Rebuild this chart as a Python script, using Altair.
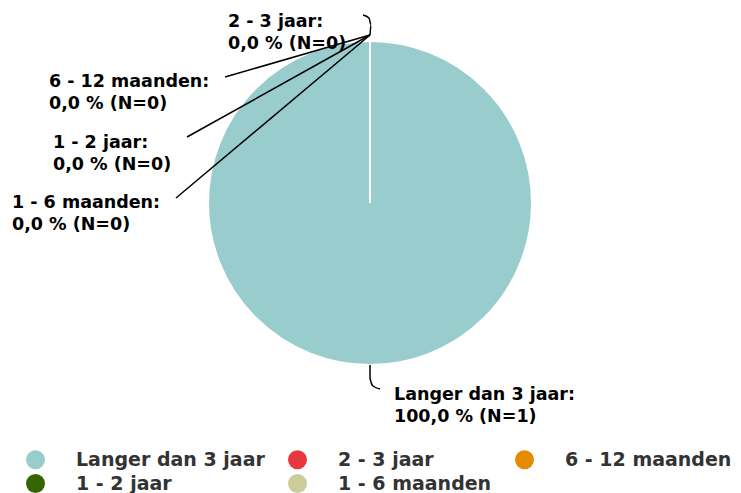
import altair as alt
import pandas as pd

# ---- data ----
categories = ["Langer dan 3 jaar", "2 - 3 jaar", "6 - 12 maanden", "1 - 2 jaar", "1 - 6 maanden"]
counts = [1, 0, 0, 0, 0]
colors = ["#99CCCC", "#E8383D", "#E68A00", "#336600", "#CCCC99"]

total = sum(counts)

def fmt_label(cat, n):
    pct = (n / total * 100) if total else 0
    return f"{cat}:\n{pct:.1f}".replace(".", ",") + f" % (N={n})"

# ---- layout (view pixel coordinates) ----
W, H = 725, 485
CX, CY, R = 362, 195, 162
label_pos = {  # text anchor (left, first baseline)
    "Langer dan 3 jaar": (386, 392),
    "2 - 3 jaar": (220, 19),
    "6 - 12 maanden": (41, 79),
    "1 - 2 jaar": (45, 140),
    "1 - 6 maanden": (4, 200),
}
hub = (CX, CY - R - 6)
straight_starts = {
    "6 - 12 maanden": (217, 69),
    "1 - 2 jaar": (179, 129),
    "1 - 6 maanden": (168, 190),
}
curves = {
    "2 - 3 jaar": [(355, 7), (361, 10), (363, 17), hub],
    "Langer dan 3 jaar": [(CX, CY + R), (CX, 370), (365, 378), (372, 381)],
}

pie_df = pd.DataFrame({"cat": categories, "n": counts, "idx": range(len(categories))})

lab_df = pd.DataFrame({
    "cat": categories,
    "text": [fmt_label(c, n) for c, n in zip(categories, counts)],
    "x": [label_pos[c][0] for c in categories],
    "y": [label_pos[c][1] for c in categories],
})

rule_df = pd.DataFrame({
    "cat": list(straight_starts.keys()),
    "x": [v[0] for v in straight_starts.values()],
    "y": [v[1] for v in straight_starts.values()],
    "x2": [hub[0]] * len(straight_starts),
    "y2": [hub[1]] * len(straight_starts),
})

curve_rows = []
for c, pts in curves.items():
    for i, (px, py) in enumerate(pts):
        curve_rows.append({"cat": c, "i": i, "x": px, "y": py})
curve_df = pd.DataFrame(curve_rows)

xs = alt.Scale(domain=[0, W])
ys = alt.Scale(domain=[0, H], reverse=True)

pie = alt.Chart(pie_df).mark_arc(radius=R, stroke="white", strokeWidth=2).encode(
    theta=alt.Theta("n:Q", stack=True),
    order=alt.Order("idx:Q"),
    color=alt.Color(
        "cat:N",
        scale=alt.Scale(domain=categories, range=colors),
        sort=categories,
        legend=alt.Legend(
            title=None, orient="none", legendX=18, legendY=442,
            direction="horizontal",
            columns=3, columnPadding=23, rowPadding=4,
            symbolType="circle", symbolSize=361, symbolStrokeWidth=0,
            labelFont="DejaVu Sans", labelFontSize=19, labelFontWeight="bold",
            labelColor="#333333", labelOffset=31, labelLimit=300, padding=0,
        ),
    ),
    x=alt.value(CX),
    y=alt.value(CY),
)

rules = alt.Chart(rule_df).mark_rule(color="black", strokeWidth=1.5).encode(
    x=alt.X("x:Q", scale=xs, axis=None),
    y=alt.Y("y:Q", scale=ys, axis=None),
    x2="x2:Q",
    y2="y2:Q",
)

curve_lines = alt.Chart(curve_df).mark_line(color="black", strokeWidth=1.5, interpolate="monotone").encode(
    x=alt.X("x:Q", scale=xs, axis=None),
    y=alt.Y("y:Q", scale=ys, axis=None),
    detail="cat:N",
    order="i:Q",
)

labels = alt.Chart(lab_df).mark_text(
    align="left", baseline="alphabetic", font="DejaVu Sans", fontSize=17.5,
    fontWeight="bold", color="black", lineBreak="\n", lineHeight=22,
).encode(
    x=alt.X("x:Q", scale=xs, axis=None),
    y=alt.Y("y:Q", scale=ys, axis=None),
    text="text:N",
)

chart = alt.layer(pie, rules, curve_lines, labels).properties(
    width=W, height=H, padding=0, autosize=alt.AutoSizeParams(type="none"),
).configure_view(stroke=None)

chart.save("out.html", embed_options={"renderer": "svg", "actions": False})
